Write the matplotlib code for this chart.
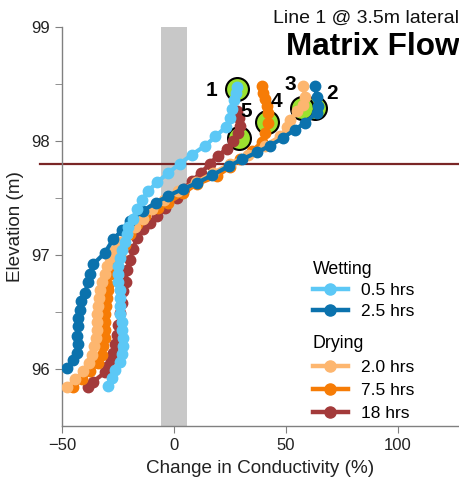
import matplotlib

matplotlib.use("Agg")
import matplotlib.pyplot as plt
from matplotlib.lines import Line2D

plt.rcParams["font.family"] = ["Liberation Sans", "DejaVu Sans"]

# 0.5 hrs wetting
wet05_x = [-29.3, -27.8, -26.3, -24.1, -23.4, -22.6, -22.6, -23.4, -23.4, -24.1, -24.1, -24.1, -24.1, -24.9,
           -25.2, -24.9, -24.2, -23.4, -22.0, -21.1, -20.4, -18.5, -16.5, -14.5, -11.5, -7.5, -2.5, 2.5, 8.0,
           14.0, 18.5, 23.0, 25.0, 26.0, 27.0, 27.5, 28.0]
wet05_z = [95.85, 95.92, 95.99, 96.06, 96.13, 96.20, 96.27, 96.34, 96.41, 96.48, 96.55, 96.62, 96.69, 96.76,
           96.83, 96.90, 96.97, 97.04, 97.11, 97.18, 97.25, 97.32, 97.40, 97.48, 97.56, 97.64, 97.72, 97.80, 97.88,
           97.96, 98.04, 98.12, 98.20, 98.28, 98.36, 98.42, 98.47]

# 2.5 hrs wetting
wet25_x = [-47.9, -45.0, -43.4, -42.7, -43.4, -43.0, -43.0, -42.0, -41.5, -39.7, -38.3, -37.5, -36.0, -30.8,
           -27.1, -23.0, -19.6, -13.7, -8.0, -2.5, 4.0, 10.1, 17.0, 24.5, 30.5, 36.9, 43.0, 48.8, 54.0, 58.5,
           63.7, 64.4, 63.7, 63.0]
wet25_z = [96.01, 96.08, 96.14, 96.22, 96.29, 96.38, 96.45, 96.52, 96.60, 96.67, 96.76, 96.83, 96.92, 97.02,
           97.14, 97.22, 97.30, 97.39, 97.46, 97.52, 97.58, 97.63, 97.70, 97.78, 97.84, 97.90, 97.96, 98.03, 98.10,
           98.16, 98.25, 98.31, 98.39, 98.48]

# 2.0 hrs drying
dry20_x = [-47.9, -44.0, -40.5, -38.0, -36.5, -35.5, -35.0, -34.5, -34.5, -34.5, -34.0, -33.5, -33.0, -32.0,
           -31.0, -30.0, -28.5, -26.5, -24.0, -21.0, -17.5, -14.0, -10.0, -4.5, 2.0, 10.0, 17.5, 25.0, 33.0,
           40.5, 47.5, 50.5, 51.8, 54.8, 57.7, 58.5, 57.7]
dry20_z = [95.84, 95.91, 95.98, 96.05, 96.12, 96.20, 96.27, 96.34, 96.41, 96.48, 96.55, 96.62, 96.69, 96.76,
           96.83, 96.90, 96.97, 97.04, 97.11, 97.18, 97.25, 97.32, 97.40, 97.48, 97.56, 97.64, 97.72, 97.80, 97.88,
           97.96, 98.04, 98.12, 98.18, 98.26, 98.32, 98.39, 98.48]

# 7.5 hrs drying
dry75_x = [-45.0, -41.0, -37.5, -34.0, -32.0, -31.5, -31.0, -31.0, -31.0, -30.8, -30.5, -30.0, -29.5, -29.3,
           -28.0, -26.3, -24.0, -21.9, -19.6, -16.3, -12.9, -7.0, -2.5, 4.0, 10.1, 19.0, 25.0, 29.5, 34.7, 39.2,
           40.6, 42.1, 42.1, 41.3, 40.6, 39.9, 39.2]
dry75_z = [95.84, 95.91, 95.98, 96.05, 96.12, 96.20, 96.27, 96.34, 96.41, 96.48, 96.55, 96.62, 96.69, 96.74,
           96.83, 96.92, 97.00, 97.09, 97.18, 97.27, 97.34, 97.41, 97.46, 97.54, 97.62, 97.69, 97.77, 97.84, 97.91,
           97.99, 98.07, 98.16, 98.25, 98.31, 98.37, 98.42, 98.48]

# 18 hrs drying
dry18_x = [-38.3, -36.0, -30.8, -29.3, -28.0, -27.1, -26.3, -25.6, -25.0, -24.1, -23.4, -22.6, -21.5, -21.1,
           -19.6, -18.2, -16.7, -13.7, -10.7, -7.5, -4.0, 1.2, 4.5, 7.9, 12.0, 16.0, 19.5, 23.5, 26.5, 28.5,
           29.5, 29.0, 28.0]
dry18_z = [95.84, 95.89, 95.97, 96.03, 96.09, 96.14, 96.22, 96.30, 96.39, 96.49, 96.58, 96.68, 96.76, 96.87,
           96.96, 97.05, 97.15, 97.23, 97.28, 97.34, 97.41, 97.50, 97.58, 97.65, 97.72, 97.80, 97.87, 97.93, 98.00,
           98.07, 98.13, 98.20, 98.26]

# numbered highlight circles
circle_x = [28, 63, 57, 41.4, 29.2]
circle_z = [98.46, 98.29, 98.29, 98.17, 98.03]
circle_labels = ["1", "2", "3", "4", "5"]
label_x = [16.8, 70.4, 51.8, 45.8, 32.4]
label_z = [98.44, 98.42, 98.5, 98.35, 98.26]

water_table = 97.8

wetting = [("0.5 hrs", wet05_x, wet05_z, "#5cc8f6"), ("2.5 hrs", wet25_x, wet25_z, "#0b72ad")]
drying = [
	("2.0 hrs", dry20_x, dry20_z, "#fdb66f"),
	("7.5 hrs", dry75_x, dry75_z, "#f67c06"),
	("18 hrs", dry18_x, dry18_z, "#a33a3a"),
]


def main():
	fig = plt.figure(figsize=(4.59, 4.86), dpi=100)
	ax = fig.add_axes([0.135, 0.1235, 0.865, 0.8209])

	ax.set_xlim(-50, 127.2)
	ax.set_ylim(95.5, 99)

	ax.axvspan(-6, 6, color="#c8c8c8", lw=0, zorder=0)
	ax.axhline(water_table, xmin=-0.055, xmax=1, color="#7a2626", lw=1.6, clip_on=False, zorder=1)

	ax.plot(circle_x, circle_z, "o", ms=16.5, mfc="#9be22f", mec="black", mew=1.5, ls="none", zorder=2)
	for lab, x, z in zip(circle_labels, label_x, label_z):
		ax.text(x, z, lab, fontsize=15, fontweight="bold", ha="center", va="center", zorder=5)

	style = dict(lw=3.0, marker="o", ms=7.5, zorder=3)
	for name, x, z, c in drying[::-1] + wetting[::-1]:
		ax.plot(x, z, color=c, mec=c, **style)

	for s in ("top", "right"):
		ax.spines[s].set_visible(False)
	for s in ("left", "bottom"):
		ax.spines[s].set_color("#808080")
		ax.spines[s].set_linewidth(1.0)

	ax.set_xticks([-50, 0, 50, 100])
	ax.set_yticks([96, 97, 98, 99])
	ax.set_yticks([96.5, 97.5, 98.5], minor=True)
	ax.tick_params(which="both", colors="#808080", length=5, labelsize=12, labelcolor="#222222")
	ax.set_xlabel("Change in Conductivity (%)", fontsize=13.6, color="#222222", labelpad=5)
	ax.set_ylabel("Elevation (m)", fontsize=13.6, color="#222222", labelpad=5)

	def make_legend(series, title, ypos, spacing):
		handles = [Line2D([], [], color=c, mec=c, lw=3.2, marker="o", ms=8) for _, _, _, c in series]
		leg = ax.legend(
			handles,
			[s[0] for s in series],
			title=title,
			loc="upper left",
			bbox_to_anchor=(0.61, ypos),
			frameon=False,
			fontsize=12.5,
			title_fontsize=12.8,
			alignment="left",
			handlelength=2.0,
			handletextpad=0.8,
			labelspacing=spacing,
			borderpad=0,
		)
		return leg

	ax.add_artist(make_legend(wetting, "Wetting", 0.435, 0.3))
	make_legend(drying, "Drying", 0.25, 0.45)

	fig.text(1.0, 0.963, "Line 1 @ 3.5m lateral", fontsize=14, ha="right", va="center", color="#111111")
	fig.text(1.0, 0.903, "Matrix Flow", fontsize=22.7, fontweight="bold", ha="right", va="center")

	fig.savefig("out.png", dpi=100)


if __name__ == "__main__":
	main()
